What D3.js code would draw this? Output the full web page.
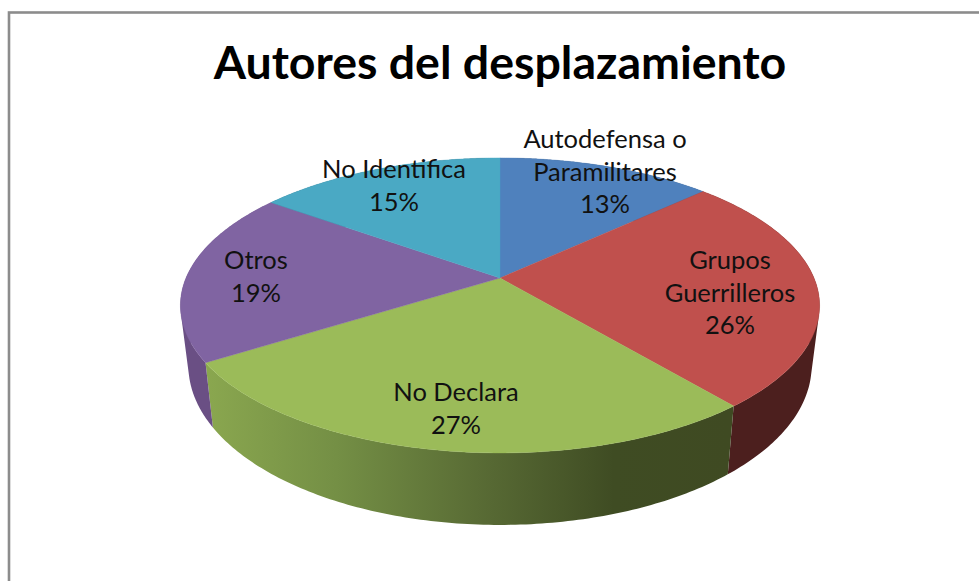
<!DOCTYPE html>
<html><head><meta charset="utf-8">
<script src="https://cdnjs.cloudflare.com/ajax/libs/d3/7.8.5/d3.min.js"></script>
<style>html,body{margin:0;padding:0;background:#fff;overflow:hidden}svg{display:block}text{font-family:Lato,"Open Sans",sans-serif;fill:#111}</style>
</head><body><svg id="c" width="979" height="581"></svg>
<script>
const chartTitle = "Autores del desplazamiento";
const categories = ["Autodefensa o Paramilitares","Grupos Guerrilleros","No Declara","Otros","No Identifica"];
const values = [13,26,27,19,15];
const labelLines = [["Autodefensa o","Paramilitares","13%"],["Grupos","Guerrilleros","26%"],["No Declara","27%"],["Otros","19%"],["No Identifica","15%"]];
const topColors = ["#4f81bd","#c0504d","#9bbb59","#8064a2","#4aa9c4"];
const sideColors = ["#2f4d71","#4c1f1e","url(#greenSide)","#6a4f84","#2c6576"];
const labelPos = [[605,148],[730,269],[456,401],[256,269],[394,178]];

const svg = d3.select("#c");
const defs = svg.append("defs");
const cx=500, cy=278, A=314, B=142.4, k=0.186, sx=0.975, sy=1.08, by=336;
const top_ = a => { const u=Math.sin(a), v=Math.cos(a), w=1+k*v; return [cx+A*u/w, cy-B*v/w]; };
const bottom = a => { const p=top_(a); return [cx+sx*(p[0]-cx), by+sy*(p[1]-cy)]; };

const g = defs.append("linearGradient").attr("id","greenSide").attr("gradientUnits","userSpaceOnUse")
  .attr("x1",206).attr("x2",729).attr("y1",0).attr("y2",0);
[[0,"#8aa74f"],[0.25,"#748f45"],[0.55,"#566833"],[0.78,"#3f4c23"],[1,"#3f4a22"]]
  .forEach(s=>g.append("stop").attr("offset",s[0]).attr("stop-color",s[1]));

svg.append("rect").attr("x",9).attr("y",12.5).attr("width",1000).attr("height",600)
  .attr("fill","#fff").attr("stroke","#8c8c8c").attr("stroke-width",2.6);

const slices = d3.pie().sort(null).value(d=>d)(values);
const line = d3.line();
const sweep = (s,fn) => d3.range(0,121).map(i=>fn(s.startAngle+(s.endAngle-s.startAngle)*i/120));
// side wall: one consistently wound quad per angular step, so the silhouette stays filled
const sidePath = s => {
  const t = sweep(s,top_), b = sweep(s,bottom);
  return d3.range(120).map(i=>{
    let q = [t[i],t[i+1],b[i+1],b[i]];
    if (d3.polygonArea(q) < 0) q = q.reverse();
    return line(q)+"Z";
  }).join("");
};

svg.append("g").selectAll("path").data(slices).join("path")
  .attr("d",sidePath)
  .attr("fill",(s,i)=>sideColors[i]);
svg.append("g").selectAll("path").data(slices).join("path")
  .attr("d",s=>line([[cx,cy],...sweep(s,top_)])+"Z")
  .attr("fill",(s,i)=>topColors[i]).attr("stroke",(s,i)=>topColors[i]).attr("stroke-width",0.4);

svg.append("text").attr("x",500).attr("y",79).attr("text-anchor","middle")
  .attr("font-size",46.5).attr("font-weight",700).style("fill","#000").text(chartTitle);

const labels = svg.append("g").selectAll("text").data(labelLines).join("text")
  .attr("text-anchor","middle").attr("font-size",25.5);
labels.each(function(lines,i){
  d3.select(this).selectAll("tspan").data(lines).join("tspan")
    .attr("x",labelPos[i][0]).attr("y",(d,j)=>labelPos[i][1]+j*32.5).text(d=>d);
});
</script></body></html>
